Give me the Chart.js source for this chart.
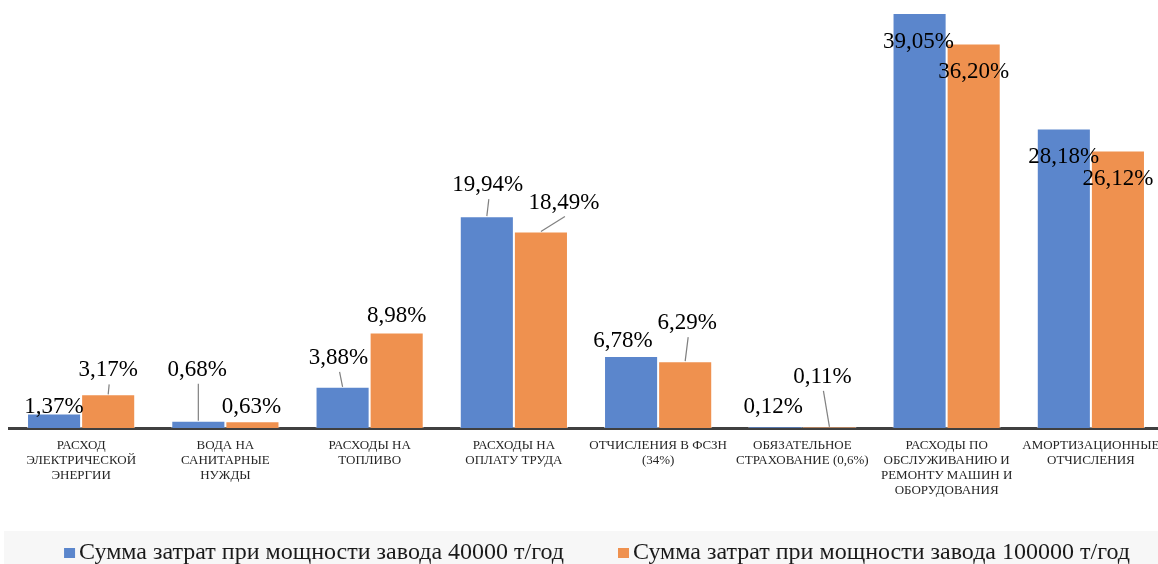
<!DOCTYPE html>
<html lang="ru">
<head>
  <meta charset="UTF-8">
  <title>Структура затрат</title>
  <script src="https://cdn.jsdelivr.net/npm/chart.js"></script>
  <style>
    html, body { margin: 0; padding: 0; background: #fff; overflow: hidden; }
    .chart-box { width: 1158px; height: 564px; overflow: hidden; }
  </style>
</head>
<body>
  <div class="chart-box">
    <canvas id="costChart" width="1166" height="564"></canvas>
  </div>

  <script>
    // categories (wrapped the way they are in the picture)
    var categories = [
      ['РАСХОД', 'ЭЛЕКТРИЧЕСКОЙ', 'ЭНЕРГИИ'],
      ['ВОДА НА', 'САНИТАРНЫЕ', 'НУЖДЫ'],
      ['РАСХОДЫ НА', 'ТОПЛИВО'],
      ['РАСХОДЫ НА', 'ОПЛАТУ ТРУДА'],
      ['ОТЧИСЛЕНИЯ В ФСЗН', '(34%)'],
      ['ОБЯЗАТЕЛЬНОЕ', 'СТРАХОВАНИЕ (0,6%)'],
      ['РАСХОДЫ ПО', 'ОБСЛУЖИВАНИЮ И', 'РЕМОНТУ МАШИН И', 'ОБОРУДОВАНИЯ'],
      ['АМОРТИЗАЦИОННЫЕ', 'ОТЧИСЛЕНИЯ']
    ];
    var seriesNames = [
      'Сумма затрат при мощности завода 40000 т/год',
      'Сумма затрат при мощности завода 100000 т/год'
    ];
    var plant40000 = [1.37, 0.68, 3.88, 19.94, 6.78, 0.12, 39.05, 28.18];
    var plant100000 = [3.17, 0.63, 8.98, 18.49, 6.29, 0.11, 36.20, 26.12];

    // label offsets from the bar top (dx, dy, leader line yes/no)
    var labelOffsets = [
      [[0, -7, 0], [-1, -52, 1], [-4, -30, 1], [1, -32, 1], [-8, -16, 0], [-2, -21, 0], [-1, 28, 0], [0, 27, 0]],
      [[0, -25, 1], [-1, -15, 0], [0, -18, 0], [23, -30, 1], [2, -39, 1], [-7, -51, 1], [0, 28, 0], [0, 27, 0]]
    ];

    var serif = '"Liberation Serif", "Times New Roman", serif';

    function pct(v) {
      return v.toFixed(2).replace('.', ',') + '%';
    }

    // value labels with leader lines
    var valueLabels = {
      id: 'valueLabels',
      afterDatasetsDraw: function(chart) {
        var ctx = chart.ctx;
        ctx.save();
        ctx.font = '23px ' + serif;
        ctx.textAlign = 'center';
        ctx.textBaseline = 'middle';
        chart.data.datasets.forEach(function(ds, di) {
          chart.getDatasetMeta(di).data.forEach(function(bar, i) {
            var off = labelOffsets[di][i];
            var lx = bar.x + off[0];
            var ly = bar.y + off[1];
            if (off[2]) {
              ctx.strokeStyle = '#808080';
              ctx.lineWidth = 1.2;
              ctx.beginPath();
              ctx.moveTo(lx + 1, ly + 15);
              ctx.lineTo(bar.x, bar.y);
              ctx.stroke();
            }
            ctx.fillStyle = '#000';
            ctx.fillText(pct(ds.data[i]), lx, ly + 1);
          });
        });
        ctx.restore();
      }
    };

    // legend band at the bottom
    var bottomLegend = {
      id: 'bottomLegend',
      beforeDraw: function(chart) {
        var ctx = chart.ctx;
        ctx.save();
        ctx.fillStyle = '#f7f7f7';
        ctx.fillRect(4, 531, chart.width, chart.height - 531);
        ctx.restore();
      },
      afterDraw: function(chart) {
        var ctx = chart.ctx;
        ctx.save();
        ctx.font = '24px ' + serif;
        ctx.textBaseline = 'middle';
        var box = 11, gap = 4, spacing = 54, cy = 553;
        var items = chart.data.datasets.map(function(ds) {
          return { text: ds.label, color: ds.backgroundColor, w: ctx.measureText(ds.label).width };
        });
        var total = 0;
        items.forEach(function(it, k) { total += box + gap + it.w + (k ? spacing : 0); });
        var x = 597 - total / 2;
        items.forEach(function(it) {
          ctx.fillStyle = it.color;
          ctx.fillRect(x, cy - 5, box, 10);
          ctx.fillStyle = '#1a1a1a';
          ctx.fillText(it.text, x + box + gap, cy);
          x += box + gap + it.w + spacing;
        });
        ctx.restore();
      }
    };

    var ctxBar = document.getElementById('costChart').getContext('2d');
    var costChart = new Chart(ctxBar, {
      type: 'bar',
      data: {
        labels: categories,
        datasets: [{
          label: seriesNames[0],
          data: plant40000,
          backgroundColor: '#5b86cc',
          borderColor: 'rgba(255,255,255,0.55)',
          borderWidth: 1
        }, {
          label: seriesNames[1],
          data: plant100000,
          backgroundColor: '#ef914f',
          borderColor: 'rgba(255,255,255,0.55)',
          borderWidth: 1
        }]
      },
      options: {
        responsive: false,
        animation: false,
        devicePixelRatio: 1,
        layout: { padding: { left: 9, right: 3, top: 3, bottom: 0 } },
        datasets: { bar: { categoryPercentage: 0.75, barPercentage: 1.0 } },
        plugins: {
          legend: { display: false },
          tooltip: { enabled: false }
        },
        scales: {
          x: {
            grid: { display: false, drawTicks: false },
            border: { display: true, color: '#404040', width: 3 },
            ticks: {
              color: '#262626',
              padding: 10,
              maxRotation: 0,
              autoSkip: false,
              font: { family: serif, size: 13, lineHeight: 1.15 }
            },
            afterFit: function(scale) {
              scale.height = 136;
              scale.paddingLeft = 0;
              scale.paddingRight = 0;
            }
          },
          y: {
            display: false,
            min: 0,
            max: 40
          }
        }
      },
      plugins: [valueLabels, bottomLegend]
    });
  </script>
</body>
</html>
